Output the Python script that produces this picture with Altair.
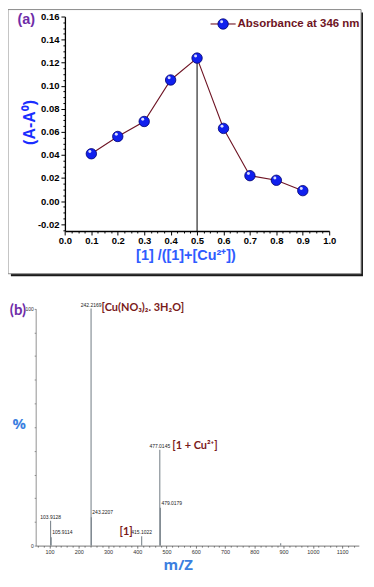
import altair as alt
import pandas as pd

# ---------------- data: panel (a) Job's plot ----------------
job_x = [0.1, 0.2, 0.3, 0.4, 0.5, 0.6, 0.7, 0.8, 0.9]
job_y = [0.041, 0.056, 0.069, 0.105, 0.124, 0.063, 0.022, 0.018, 0.009]
legend_label = ["Absorbance at 346 nm"]
a_x_title = "[1] /([1]+[Cu²⁺])"
a_y_title = "(A-A⁰)"
a_x_domain = [0.0, 1.0]
a_y_domain = [-0.026, 0.16]

# ---------------- data: panel (b) mass spectrum ----------------
ms_mz = [103.9128, 105.9114, 242.2169, 243.2207, 415.1022, 477.0145, 479.0179, 890.0]
ms_pct = [10.5, 3.5, 100.0, 12.0, 4.0, 40.5, 16.0, 1.0]
ms_label = ["103.9128", "105.9114", "242.2169", "243.2207", "415.1022", "477.0145", "479.0179", ""]
ann_text = ["[Cu(NO₃)₂. 3H₂O]", "[1 + Cu²⁺]", "[1]"]
ann_mz = [242.2169, 477.0145, 415.1022]
b_x_title = "m/Z"
b_y_title = "%"
b_x_domain = [53, 1157]
b_y_domain = [0, 100]
panel_labels = ["(a)", "(b)"]

# ---------------- layout helpers (reference px -> chart px) ----------------
W, H = 360, 566


def fx(rx):
    return round((rx - 2) * 0.97, 2)


def fy(ry):
    return round((ry - 2) * 0.966, 2)


DARKRED = "#6e1424"
PURPLE = "#6f2da8"

# ================= panel (a) =================
df_a = pd.DataFrame({"x": job_x, "y": job_y})
sx_a = alt.Scale(domain=a_x_domain, range=[fx(61), fx(335)], nice=False, zero=False)
sy_a = alt.Scale(domain=a_y_domain, range=[fy(232.5), fy(9.3)], nice=False, zero=False)

a_xvals = [round(k * 0.025, 3) for k in range(0, 41)]
a_yvals = [round(-0.025 + k * 0.005, 3) for k in range(0, 38)]
maj_x = "abs(datum.value*10 - round(datum.value*10)) < 1e-6"
maj_y = "abs(datum.value*50 - round(datum.value*50)) < 1e-6"

ax_a = alt.Axis(
    orient="bottom", offset=fy(232.5) - H, values=a_xvals, zindex=1,
    labelExpr=f"{maj_x} ? format(datum.value, '.1f') : ''",
    tickSize={"condition": {"test": maj_x, "value": 4}, "value": 2},
    tickColor="black", tickWidth=1, domainColor="black", domainWidth=1.3,
    labelFont="Liberation Sans", labelFontWeight="bold", labelFontSize=9.5,
    labelColor="black", labelPadding=1, labelOverlap=False, labelFlush=False, labelBound=False,
    grid=False,
    title=a_x_title, titleX=fx(186), titleY=fy(258) - fy(232.5),
    titleAlign="center", titleBaseline="middle", titleAngle=0,
    titleFont="Liberation Sans", titleFontWeight="bold", titleFontSize=14.5, titleColor="#2f5cff",
)
ay_a = alt.Axis(
    orient="left", offset=-fx(61), values=a_yvals, zindex=1,
    labelExpr=f"{maj_y} ? (datum.value < -1e-9 ? '-' : '') + format(abs(datum.value), '.2f') : ''",
    tickSize={"condition": {"test": maj_y, "value": 4}, "value": 2},
    tickColor="black", tickWidth=1, domainColor="black", domainWidth=1.3,
    labelFont="Liberation Sans", labelFontWeight="bold", labelFontSize=9.5,
    labelColor="black", labelPadding=2, labelOverlap=False, labelFlush=False, labelBound=False,
    grid=False,
    title=a_y_title, titleX=fx(24) - fx(61), titleY=fy(119),
    titleAlign="center", titleBaseline="middle", titleAngle=270,
    titleFont="Liberation Sans", titleFontWeight="bold", titleFontSize=16, titleColor="#1a2eff",
)

X_a = alt.X("x:Q", scale=sx_a, axis=ax_a)
Y_a = alt.Y("y:Q", scale=sy_a, axis=ay_a)

one = pd.DataFrame({"t": [panel_labels[0]]})
shadow = alt.Chart(one).mark_rect(fill="#1a1a1a").encode(
    x=alt.value(fx(5)), x2=alt.value(fx(370)), y=alt.value(fy(5)), y2=alt.value(fy(279.5)))
frame = alt.Chart(one).mark_rect(fill="white", stroke="#8a8a8a", strokeWidth=1).encode(
    x=alt.value(fx(2)), x2=alt.value(fx(368)), y=alt.value(fy(2)), y2=alt.value(fy(277)))

line_a = alt.Chart(df_a).mark_line(color=DARKRED, strokeWidth=1.1).encode(x=X_a, y=Y_a)
peak_i = job_y.index(max(job_y))
df_v = pd.DataFrame({"x": [job_x[peak_i]], "y": [job_y[peak_i]]})
vrule = alt.Chart(df_v).mark_rule(color="black", strokeWidth=1).encode(
    x=X_a, y=Y_a, y2=alt.datum(a_y_domain[0]))
pts_a = alt.Chart(df_a).mark_point(filled=True, size=110, fill="#1020ee", stroke="#000070",
                                   strokeWidth=0.8, opacity=1, shape="circle").encode(x=X_a, y=Y_a)
hl_a = alt.Chart(df_a).mark_point(filled=True, size=9, fill="white", opacity=0.85,
                                  xOffset=-1.5, yOffset=-2.2, shape="circle").encode(x=X_a, y=Y_a)

leg_df = pd.DataFrame({"t": legend_label})
leg_rule = alt.Chart(leg_df).mark_rule(color=DARKRED, strokeWidth=1.1).encode(
    x=alt.value(fx(212)), x2=alt.value(fx(238)), y=alt.value(fy(17)))
leg_pt = alt.Chart(leg_df).mark_point(filled=True, size=110, fill="#1020ee", stroke="#000070",
                                      strokeWidth=0.8, opacity=1, shape="circle").encode(
    x=alt.value(fx(225)), y=alt.value(fy(17)))
leg_hl = alt.Chart(leg_df).mark_point(filled=True, size=9, fill="white", opacity=0.85,
                                      shape="circle").encode(
    x=alt.value(fx(225) - 1.5), y=alt.value(fy(17) - 2.2))
leg_txt = alt.Chart(leg_df).mark_text(align="left", baseline="middle", font="Liberation Sans",
                                      fontWeight="bold", fontSize=11.5, color=DARKRED).encode(
    x=alt.value(fx(240)), y=alt.value(fy(17.5)), text="t:N")
lab_a = alt.Chart(one).mark_text(align="center", baseline="middle", font="Liberation Sans",
                                 fontWeight="bold", fontSize=14.5, color=PURPLE).encode(
    x=alt.value(fx(21)), y=alt.value(fy(13)), text="t:N")

panel_a = alt.layer(shadow, frame, line_a, vrule, pts_a, hl_a,
                    leg_rule, leg_pt, leg_hl, leg_txt, lab_a)

# ================= panel (b) =================
# label placement: isotope peaks (taller peak just before) get labels to the right
side = []
for m, p in zip(ms_mz, ms_pct):
    right = any((0 < m - m2 < 5) and p2 > p for m2, p2 in zip(ms_mz, ms_pct))
    side.append("right" if right else "center")
df_b = pd.DataFrame({"mz": ms_mz, "pct": ms_pct, "label": ms_label, "side": side})

sx_b = alt.Scale(domain=b_x_domain, range=[fx(30.7), fx(365.7)], nice=False, zero=False)
sy_b = alt.Scale(domain=b_y_domain, range=[fy(560), fy(313.3)], nice=False, zero=False)
b_xvals = list(range(60, 1160, 20))
b_yvals = list(range(0, 101, 10))

ax_b = alt.Axis(
    orient="bottom", offset=fy(560) - H, values=b_xvals, zindex=1,
    labelExpr="datum.value % 100 === 0 ? format(datum.value, 'd') : ''",
    tickSize={"condition": {"test": "datum.value % 100 === 0", "value": 2.5}, "value": 1.5},
    tickColor="#555555", tickWidth=0.8, domainColor="#555555", domainWidth=0.8,
    labelFont="Liberation Sans", labelFontSize=5.5, labelColor="#333333", labelPadding=1.5,
    labelOverlap=False, labelFlush=False, labelBound=False, grid=False,
    title=b_x_title, titleX=fx(178), titleY=19,
    titleAlign="center", titleBaseline="middle", titleAngle=0,
    titleFont="Open Sans", titleFontWeight="bold", titleFontSize=15, titleColor="#3b7fe0",
)
ay_b = alt.Axis(
    orient="left", offset=-fx(30.7), values=b_yvals, zindex=1,
    labelExpr="datum.value === 0 || datum.value === 100 ? format(datum.value, 'd') : ''",
    tickSize=1.5, tickColor="#777777", tickWidth=0.8, domainColor="#777777", domainWidth=0.8,
    labelFont="Liberation Sans", labelFontSize=5, labelColor="#333333", labelPadding=1,
    labelOverlap=False, labelFlush=False, labelBound=False, grid=False,
    title=b_y_title, titleX=fx(13) - fx(30.7), titleY=fy(433),
    titleAlign="center", titleBaseline="middle", titleAngle=0,
    titleFont="Open Sans", titleFontWeight="bold", titleFontSize=15, titleColor="#3b7fe0",
)
X_b = alt.X("mz:Q", scale=sx_b, axis=ax_b)
Y_b = alt.Y("pct:Q", scale=sy_b, axis=ay_b)

peaks = alt.Chart(df_b).mark_rule(color="#7d878e", strokeWidth=1.1).encode(
    x=X_b, y=Y_b, y2=alt.datum(0))
lbl_c = alt.Chart(df_b).transform_filter(
    "datum.label !== '' && datum.side === 'center'").mark_text(
    align="center", baseline="bottom", dy=-1, font="Liberation Sans", fontSize=5,
    color="#222222").encode(x=X_b, y=Y_b, text="label:N")
lbl_r = alt.Chart(df_b).transform_filter(
    "datum.label !== '' && datum.side === 'right'").mark_text(
    align="left", baseline="bottom", dx=1, dy=-2, font="Liberation Sans", fontSize=5,
    color="#222222").encode(x=X_b, y=Y_b, text="label:N")

ann_pct = [ms_pct[ms_mz.index(m)] for m in ann_mz]
ann_layers = []
ann_style = [("left", 10.5, -1), ("left", 12.5, -4), ("right", -9, -4)]
for t, m, p, (al, dx, dy) in zip(ann_text, ann_mz, ann_pct, ann_style):
    d = pd.DataFrame({"mz": [m], "pct": [p], "t": [t]})
    ann_layers.append(alt.Chart(d).mark_text(
        align=al, baseline="middle", dx=dx, dy=dy, font="Lato", fontWeight="bold",
        fontSize=11, color="#7a1a1a").encode(x=X_b, y=Y_b, text="t:N"))

two = pd.DataFrame({"t": [panel_labels[1]]})
lab_b = alt.Chart(two).mark_text(align="center", baseline="middle", font="Lato",
                                 fontWeight="bold", fontSize=15, color=PURPLE).encode(
    x=alt.value(10), y=alt.value(fy(315)), text="t:N")

panel_b = alt.layer(peaks, lbl_c, lbl_r, *ann_layers, lab_b)

chart = alt.layer(panel_a, panel_b).resolve_scale(
    x="independent", y="independent").resolve_axis(
    x="independent", y="independent").properties(
    width=W, height=H, autosize="none", padding=0, background="white"
).configure_view(stroke="transparent")

chart.save("out.html", embed_options={"renderer": "svg", "actions": False})
